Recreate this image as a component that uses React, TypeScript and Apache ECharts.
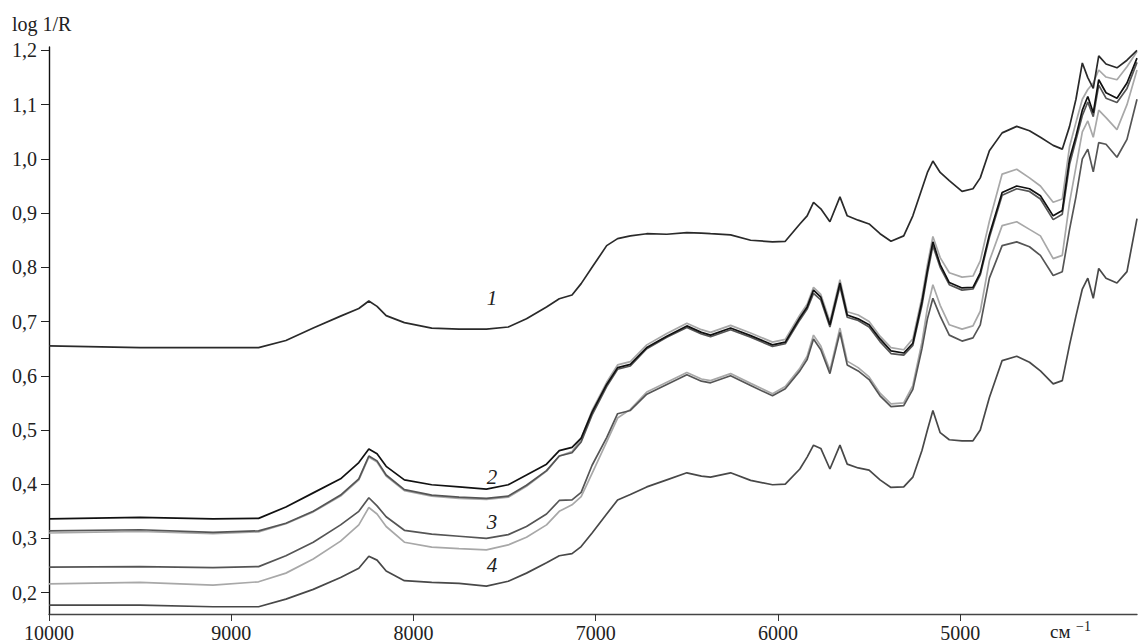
import React, { useEffect, useRef } from "react";
import * as echarts from "echarts";

const wavenumbers = [
  10000, 9500, 9100, 8850, 8700, 8550, 8400, 8300, 8245, 8200, 8150, 8050, 7900, 7750, 7600, 7480,
  7380, 7270, 7200, 7130, 7080, 7020, 6940, 6880, 6810, 6720, 6610, 6500, 6420, 6370, 6260, 6150,
  6030, 5960, 5880, 5840, 5805, 5765, 5715, 5660, 5620, 5560, 5500, 5440, 5380, 5310, 5260, 5210,
  5180, 5150, 5110, 5060, 4990, 4930, 4890, 4840, 4770, 4690, 4620, 4560, 4490, 4440, 4400, 4365,
  4330, 4300, 4270, 4240, 4200, 4140, 4085, 4030,
];

const curve1 = [
  0.655, 0.652, 0.652, 0.652, 0.665, 0.688, 0.710, 0.724, 0.738, 0.728, 0.711, 0.698, 0.688, 0.686, 0.686, 0.690,
  0.705, 0.727, 0.742, 0.749, 0.770, 0.800, 0.840, 0.853, 0.858, 0.862, 0.861, 0.864, 0.863, 0.862, 0.860, 0.850,
  0.847, 0.848, 0.880, 0.895, 0.920, 0.908, 0.884, 0.930, 0.895, 0.887, 0.880, 0.862, 0.848, 0.858, 0.895, 0.945,
  0.975, 0.996, 0.975, 0.960, 0.940, 0.945, 0.965, 1.015, 1.048, 1.060, 1.052, 1.040, 1.025, 1.018, 1.060, 1.110,
  1.177, 1.150, 1.130, 1.190, 1.175, 1.168, 1.182, 1.200,
];

const curve2a = [
  0.336, 0.339, 0.336, 0.337, 0.358, 0.384, 0.410, 0.440, 0.465, 0.456, 0.433, 0.408, 0.399, 0.395, 0.391, 0.399,
  0.417, 0.437, 0.462, 0.468, 0.485, 0.533, 0.584, 0.615, 0.621, 0.652, 0.673, 0.692, 0.680, 0.675, 0.688, 0.674,
  0.657, 0.662, 0.707, 0.727, 0.758, 0.745, 0.694, 0.771, 0.712, 0.705, 0.694, 0.668, 0.646, 0.642, 0.660, 0.737,
  0.795, 0.847, 0.805, 0.772, 0.762, 0.763, 0.790, 0.860, 0.938, 0.950, 0.945, 0.932, 0.895, 0.905, 1.000, 1.042,
  1.090, 1.115, 1.085, 1.146, 1.122, 1.112, 1.140, 1.186,
];

const curve2b = [
  0.314, 0.316, 0.311, 0.314, 0.328, 0.350, 0.380, 0.410, 0.452, 0.443, 0.417, 0.390, 0.380, 0.376, 0.374, 0.378,
  0.398, 0.425, 0.452, 0.458, 0.478, 0.528, 0.580, 0.612, 0.618, 0.650, 0.671, 0.689, 0.677, 0.672, 0.685, 0.671,
  0.654, 0.659, 0.703, 0.723, 0.752, 0.740, 0.690, 0.765, 0.708, 0.702, 0.690, 0.663, 0.641, 0.638, 0.656, 0.730,
  0.788, 0.840, 0.800, 0.768, 0.758, 0.760, 0.786, 0.855, 0.933, 0.945, 0.940, 0.926, 0.888, 0.898, 0.990, 1.035,
  1.080, 1.105, 1.078, 1.136, 1.112, 1.104, 1.130, 1.178,
];

const curve2c = [
  0.310, 0.313, 0.309, 0.312, 0.327, 0.349, 0.378, 0.408, 0.450, 0.441, 0.415, 0.388, 0.378, 0.374, 0.372, 0.376,
  0.396, 0.424, 0.452, 0.460, 0.484, 0.536, 0.588, 0.620, 0.626, 0.657, 0.678, 0.697, 0.685, 0.680, 0.693, 0.679,
  0.662, 0.667, 0.712, 0.732, 0.763, 0.750, 0.700, 0.777, 0.718, 0.712, 0.700, 0.673, 0.652, 0.648, 0.668, 0.745,
  0.805, 0.857, 0.818, 0.790, 0.782, 0.784, 0.812, 0.885, 0.972, 0.981, 0.965, 0.950, 0.920, 0.926, 1.023, 1.067,
  1.110, 1.128, 1.140, 1.164, 1.151, 1.146, 1.170, 1.198,
];

const curve3a = [
  0.247, 0.248, 0.246, 0.248, 0.268, 0.293, 0.325, 0.350, 0.375, 0.360, 0.340, 0.315, 0.308, 0.304, 0.300, 0.307,
  0.322, 0.345, 0.370, 0.371, 0.385, 0.435, 0.486, 0.530, 0.536, 0.566, 0.584, 0.602, 0.590, 0.587, 0.600, 0.582,
  0.563, 0.576, 0.609, 0.630, 0.668, 0.648, 0.604, 0.680, 0.620, 0.609, 0.593, 0.563, 0.543, 0.545, 0.575, 0.650,
  0.705, 0.743, 0.710, 0.675, 0.664, 0.670, 0.694, 0.780, 0.840, 0.847, 0.838, 0.822, 0.785, 0.792, 0.870, 0.930,
  1.000, 1.018, 0.976, 1.030, 1.027, 1.003, 1.036, 1.110,
];

const curve3b = [
  0.216, 0.219, 0.214, 0.220, 0.236, 0.262, 0.295, 0.325, 0.357, 0.345, 0.322, 0.293, 0.284, 0.281, 0.279, 0.288,
  0.302, 0.325, 0.350, 0.362, 0.377, 0.420, 0.478, 0.522, 0.538, 0.570, 0.588, 0.606, 0.594, 0.591, 0.604, 0.586,
  0.567, 0.580, 0.614, 0.636, 0.675, 0.655, 0.610, 0.688, 0.627, 0.615, 0.598, 0.568, 0.548, 0.550, 0.582, 0.662,
  0.725, 0.768, 0.730, 0.694, 0.686, 0.692, 0.719, 0.812, 0.877, 0.884, 0.870, 0.858, 0.816, 0.822, 0.920, 0.985,
  1.050, 1.070, 1.040, 1.090, 1.076, 1.054, 1.100, 1.164,
];

const curve4 = [
  0.177, 0.177, 0.174, 0.174, 0.188, 0.206, 0.228, 0.245, 0.267, 0.260, 0.240, 0.222, 0.219, 0.217, 0.212, 0.221,
  0.236, 0.255, 0.268, 0.272, 0.285, 0.310, 0.345, 0.371, 0.381, 0.395, 0.408, 0.421, 0.415, 0.413, 0.421, 0.407,
  0.399, 0.400, 0.428, 0.450, 0.472, 0.466, 0.428, 0.472, 0.437, 0.430, 0.426, 0.408, 0.394, 0.395, 0.413, 0.462,
  0.500, 0.536, 0.495, 0.482, 0.480, 0.480, 0.500, 0.560, 0.628, 0.636, 0.625, 0.609, 0.585, 0.591, 0.657, 0.710,
  0.760, 0.780, 0.743, 0.798, 0.780, 0.771, 0.792, 0.890,
];

const xTicks = [10000, 9000, 8000, 7000, 6000, 5000];
const yTicks = [0.2, 0.3, 0.4, 0.5, 0.6, 0.7, 0.8, 0.9, 1.0, 1.1, 1.2];
const curveLabels = ["1", "2", "3", "4"];

const SERIF = "Liberation Serif, Times New Roman, serif";

export default function App() {
  const ref = useRef<HTMLDivElement>(null);

  useEffect(() => {
    if (!ref.current) return;
    const chart = echarts.init(ref.current, undefined, { renderer: "svg" });

    const mk = (name: string, arr: number[], color: string, z: number, width = 1.7) => ({
      name,
      type: "line",
      data: wavenumbers.map((w, i) => [w, arr[i]]),
      showSymbol: false,
      symbol: "none",
      z,
      lineStyle: { color, width },
      emphasis: { disabled: true },
    });

    const labelPos = [
      [492, 298],
      [492, 477],
      [492, 522],
      [492, 565],
    ];

    chart.setOption({
      animation: false,
      backgroundColor: "#ffffff",
      grid: { left: 49, right: 1, top: 47, bottom: 25 },
      xAxis: {
        type: "value",
        inverse: true,
        min: 4030,
        max: 10000,
        axisLine: { show: true, lineStyle: { color: "#444", width: 1.4 } },
        axisTick: { show: true, length: 7, customValues: xTicks, lineStyle: { color: "#333", width: 1 } },
        axisLabel: {
          customValues: xTicks,
          margin: 9,
          fontSize: 20,
          fontFamily: SERIF,
          color: "#222",
          formatter: (v: number) => String(v),
        },
        splitLine: { show: false },
      },
      yAxis: {
        type: "value",
        min: 0.1606,
        max: 1.2064,
        axisLine: { show: true, lineStyle: { color: "#111", width: 1.4 } },
        axisTick: { show: true, length: 8, customValues: yTicks, lineStyle: { color: "#222", width: 1 } },
        axisLabel: {
          customValues: yTicks,
          margin: 12,
          fontSize: 20,
          fontFamily: SERIF,
          color: "#222",
          formatter: (v: number) => v.toFixed(1).replace(".", ","),
        },
        splitLine: { show: false },
      },
      graphic: [
        {
          type: "text",
          left: 12,
          top: 14,
          style: { text: "log 1/R", fontSize: 20, fontFamily: SERIF, fill: "#222" },
        },
        {
          type: "text",
          left: 1050,
          top: 622,
          style: { text: "см", fontSize: 19, fontFamily: SERIF, fill: "#222" },
        },
        {
          type: "text",
          left: 1076,
          top: 619,
          style: { text: "−1", fontSize: 14, fontFamily: SERIF, fill: "#222" },
        },
        ...curveLabels.map((t, i) => ({
          type: "text",
          x: labelPos[i][0],
          y: labelPos[i][1],
          z: 100,
          style: {
            text: t,
            fontSize: 21,
            fontStyle: "italic",
            fontFamily: SERIF,
            fill: "#222",
            textAlign: "center",
            textVerticalAlign: "middle",
            align: "center",
            verticalAlign: "middle",
          },
        })),
      ],
      series: [
        mk("2c", curve2c, "#a8a8a8", 2),
        mk("3b", curve3b, "#a8a8a8", 2),
        mk("2b", curve2b, "#555555", 3),
        mk("3a", curve3a, "#555555", 3),
        mk("4", curve4, "#484848", 3),
        mk("2a", curve2a, "#111111", 4),
        mk("1", curve1, "#2a2a2a", 5),
      ],
    });

    return () => chart.dispose();
  }, []);

  return (
    <div
      ref={ref}
      style={{ position: "fixed", left: 0, top: 0, width: 1138, height: 643, background: "#fff" }}
    />
  );
}
